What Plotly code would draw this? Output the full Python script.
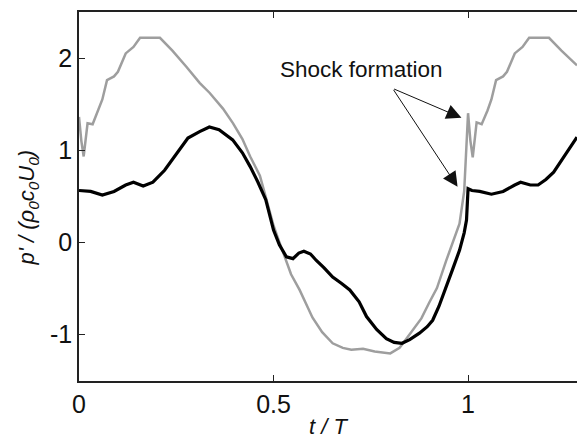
import plotly.graph_objects as go

# Gray curve (t/T, p')
gray_t = [0.0, 0.006, 0.012, 0.022, 0.035, 0.05, 0.06, 0.072, 0.09, 0.1, 0.12, 0.14,
          0.157, 0.208, 0.24, 0.277, 0.31, 0.336, 0.37, 0.396, 0.42, 0.44, 0.465, 0.482, 0.50, 0.515, 0.53,
          0.545, 0.567, 0.585, 0.60, 0.625, 0.652, 0.678, 0.70, 0.73, 0.76, 0.80, 0.824, 0.84, 0.858, 0.88,
          0.90, 0.92, 0.944, 0.96, 0.978, 0.99, 0.996, 1.0, 1.006, 1.012, 1.022, 1.035, 1.05,
          1.06, 1.072, 1.09, 1.1, 1.12, 1.14, 1.157, 1.208, 1.24, 1.28]
gray_p = [1.36, 1.1, 0.93, 1.29, 1.28, 1.43, 1.55, 1.76, 1.8, 1.85, 2.05, 2.12,
          2.22, 2.22, 2.08, 1.9, 1.73, 1.62, 1.45, 1.29, 1.12, 0.93, 0.72, 0.46, 0.18, 0.0, -0.17,
          -0.35, -0.52, -0.68, -0.82, -0.98, -1.1, -1.15, -1.17, -1.16, -1.19, -1.21, -1.15, -1.06, -0.96, -0.83,
          -0.66, -0.5, -0.2, -0.02, 0.2, 0.55, 1.0, 1.40, 1.1, 0.92, 1.30, 1.28, 1.43,
          1.55, 1.76, 1.8, 1.85, 2.05, 2.12, 2.22, 2.22, 2.08, 1.92]

# Black curve (t/T, p')
black_t = [0.0, 0.03, 0.06, 0.09, 0.12, 0.14, 0.165, 0.19, 0.22, 0.25, 0.28, 0.31, 0.335, 0.36, 0.395,
           0.42, 0.44, 0.46, 0.48, 0.50, 0.515, 0.533, 0.55, 0.565, 0.578, 0.595, 0.61, 0.63, 0.652, 0.675,
           0.696, 0.72, 0.739, 0.765, 0.79, 0.81, 0.83, 0.85, 0.875, 0.895, 0.909, 0.925, 0.944, 0.96, 0.978,
           0.99, 0.996, 0.999, 1.0, 1.01, 1.03, 1.06, 1.09, 1.12, 1.135, 1.16, 1.18, 1.2, 1.22, 1.25, 1.28]
black_p = [0.56, 0.55, 0.51, 0.55, 0.62, 0.65, 0.61, 0.65, 0.78, 0.95, 1.13, 1.2, 1.25, 1.22, 1.11,
           0.97, 0.82, 0.65, 0.46, 0.13, -0.03, -0.16, -0.18, -0.12, -0.10, -0.13, -0.2, -0.28, -0.38, -0.45,
           -0.52, -0.65, -0.81, -0.95, -1.05, -1.09, -1.1, -1.06, -0.99, -0.92, -0.85, -0.7, -0.49, -0.3, -0.09,
           0.1, 0.24, 0.57, 0.58, 0.56, 0.55, 0.52, 0.55, 0.62, 0.65, 0.62, 0.62, 0.68, 0.76, 0.95, 1.14]

x_ticks = [0, 0.5, 1]
x_tick_labels = ["0", "0.5", "1"]
y_ticks = [-1, 0, 1, 2]
y_tick_labels = ["-1", "0", "1", "2"]

FONT = "Liberation Sans, Arial, sans-serif"

fig = go.Figure()
fig.add_trace(go.Scatter(x=gray_t, y=gray_p, mode="lines",
                         line=dict(color="#9e9e9e", width=2.5), showlegend=False))
fig.add_trace(go.Scatter(x=black_t, y=black_p, mode="lines",
                         line=dict(color="#000000", width=3.2), showlegend=False))

fig.update_layout(
    width=577, height=438,
    margin=dict(l=79, r=0, t=12, b=57),
    paper_bgcolor="white", plot_bgcolor="white",
    font=dict(family=FONT, color="#111", size=25),
    xaxis=dict(range=[0, 1.28], tickvals=x_ticks, ticktext=x_tick_labels,
               ticks="inside", ticklen=6, tickcolor="#222", showgrid=False, zeroline=False,
               showline=True, linecolor="#222", linewidth=1.5, mirror="ticks",
               tickfont=dict(size=25, family=FONT, color="#111")),
    yaxis=dict(range=[-1.51, 2.5], tickvals=y_ticks, ticktext=y_tick_labels,
               ticks="inside", ticklen=6, tickcolor="#222", showgrid=False, zeroline=False,
               showline=True, linecolor="#222", linewidth=1.5, mirror=False,
               tickfont=dict(size=25, family=FONT, color="#111")),
)

# axis titles
fig.add_annotation(text="<i>t / T</i>", xref="paper", yref="paper", x=0.5, y=0,
                   yshift=-45, showarrow=False, xanchor="center", yanchor="middle",
                   font=dict(size=22, family=FONT, color="#111"))
fig.add_annotation(text="<i>p' / (ρ<sub>0</sub>c<sub>0</sub>U<sub>0</sub>)</i>", xref="paper", yref="paper",
                   x=0, xshift=-51, y=0.47, showarrow=False, textangle=-90,
                   xanchor="center", yanchor="middle",
                   font=dict(size=22, family=FONT, color="#111"))

# Shock formation label and arrows
fig.add_annotation(text="Shock formation", x=0.727, y=1.87, xref="x", yref="y",
                   showarrow=False, font=dict(size=22.5, family=FONT, color="#111"))
fig.add_annotation(x=0.983, y=1.35, ax=0.806, ay=1.67, xref="x", yref="y", axref="x", ayref="y",
                   text="", showarrow=True, arrowhead=2, arrowsize=3, arrowwidth=1, arrowcolor="#111")
fig.add_annotation(x=0.973, y=0.60, ax=0.806, ay=1.67, xref="x", yref="y", axref="x", ayref="y",
                   text="", showarrow=True, arrowhead=2, arrowsize=3, arrowwidth=1, arrowcolor="#111")

fig.write_html("out.html")
